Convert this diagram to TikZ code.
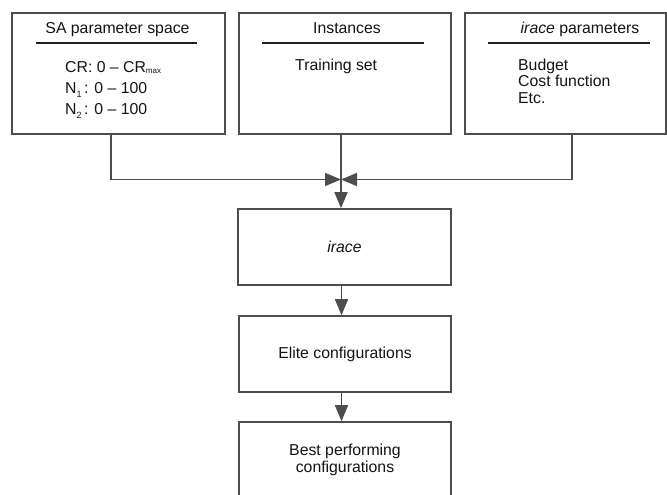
\documentclass[tikz,border=0pt]{standalone}
\usepackage{fontspec}
\setmainfont{Liberation Sans}
\usetikzlibrary{arrows.meta,calc}
\definecolor{linegray}{HTML}{4D4D4D}
\definecolor{txt}{HTML}{141414}
\tikzset{
  box/.style={draw=linegray, line width=1.6pt, minimum width=#1, inner sep=0pt, fill=white},
  box/.default=213pt,
  lbl/.style={text=txt, inner sep=0pt, font=\fontsize{15.8}{17}\selectfont},
  conn/.style={draw=linegray, line width=1.6pt, -{Triangle[length=16pt,width=13pt]}},
  hline/.style={draw=txt!80!linegray, line width=1.8pt}
}
\begin{document}
\begin{tikzpicture}[x=1pt,y=-1pt]
\clip (0,0) rectangle (667,495);
\fill[white] (0,0) rectangle (667,495);
% top boxes
\node[box=213pt, minimum height=121pt] (b1) at (118.5,73.5) {};
\node[box=212pt, minimum height=121pt] (b2) at (345,73.5) {};
\node[box=201pt, minimum height=121pt] (b3) at (565.5,73.5) {};
% header lines
\draw[hline] (36,43) -- (197,43);
\draw[hline] (262,43) -- (424,43);
\draw[hline] (488,43) -- (650,43);
% titles
\node[lbl, anchor=base] (t1) at (117.5,33.3) {SA parameter space};
\node[lbl, anchor=base] (t2) at (347,33.3) {Instances};
\node[lbl, anchor=base] (t3) at (580,33.3) {\textit{irace} parameters};
% contents box 1
\node[lbl, anchor=base west] (c1) at (65,72.5) {CR: 0 -- CR\raisebox{-1.5pt}{\fontsize{8}{8}\selectfont max}};
\node[lbl, anchor=base west] (c2) at (65,93.5) {N\raisebox{-4pt}{\fontsize{9}{9}\selectfont 1}\,: 0 -- 100};
\node[lbl, anchor=base west] (c3) at (65,114.5) {N\raisebox{-4pt}{\fontsize{9}{9}\selectfont 2}\,: 0 -- 100};
% contents box 2
\node[lbl, anchor=base west] (c4) at (295,70.3) {Training set};
% contents box 3
\node[lbl, anchor=base west] (c5) at (518,70.3) {Budget};
\node[lbl, anchor=base west] (c6) at (518,86.8) {Cost function};
\node[lbl, anchor=base west] (c7) at (518,103.3) {Etc.};
% lower boxes
\node[box=213pt, minimum height=76pt, lbl] (ir) at (344.5,247) {\textit{irace}};
\node[box=212pt, minimum height=76pt, lbl] (el) at (345,354) {Elite configurations};
\node[box=212pt, minimum height=76pt, lbl, align=center] (be) at (345,460)
  {Best performing\\[-0.5pt]configurations};
% connectors
\coordinate (j) at (341,179.5);
\draw[conn] ([xshift=-7.5pt]b1.south) |- (j);
\draw[conn] ([xshift=6.5pt]b3.south) |- (j);
\draw[conn] ([xshift=-4pt]b2.south) -- (ir.north -| j);
\draw[conn] ([xshift=-3pt]ir.south) -- ([xshift=-3.5pt]el.north);
\draw[conn] ([xshift=-3.5pt]el.south) -- ([xshift=-3.5pt]be.north);
\end{tikzpicture}
\end{document}
